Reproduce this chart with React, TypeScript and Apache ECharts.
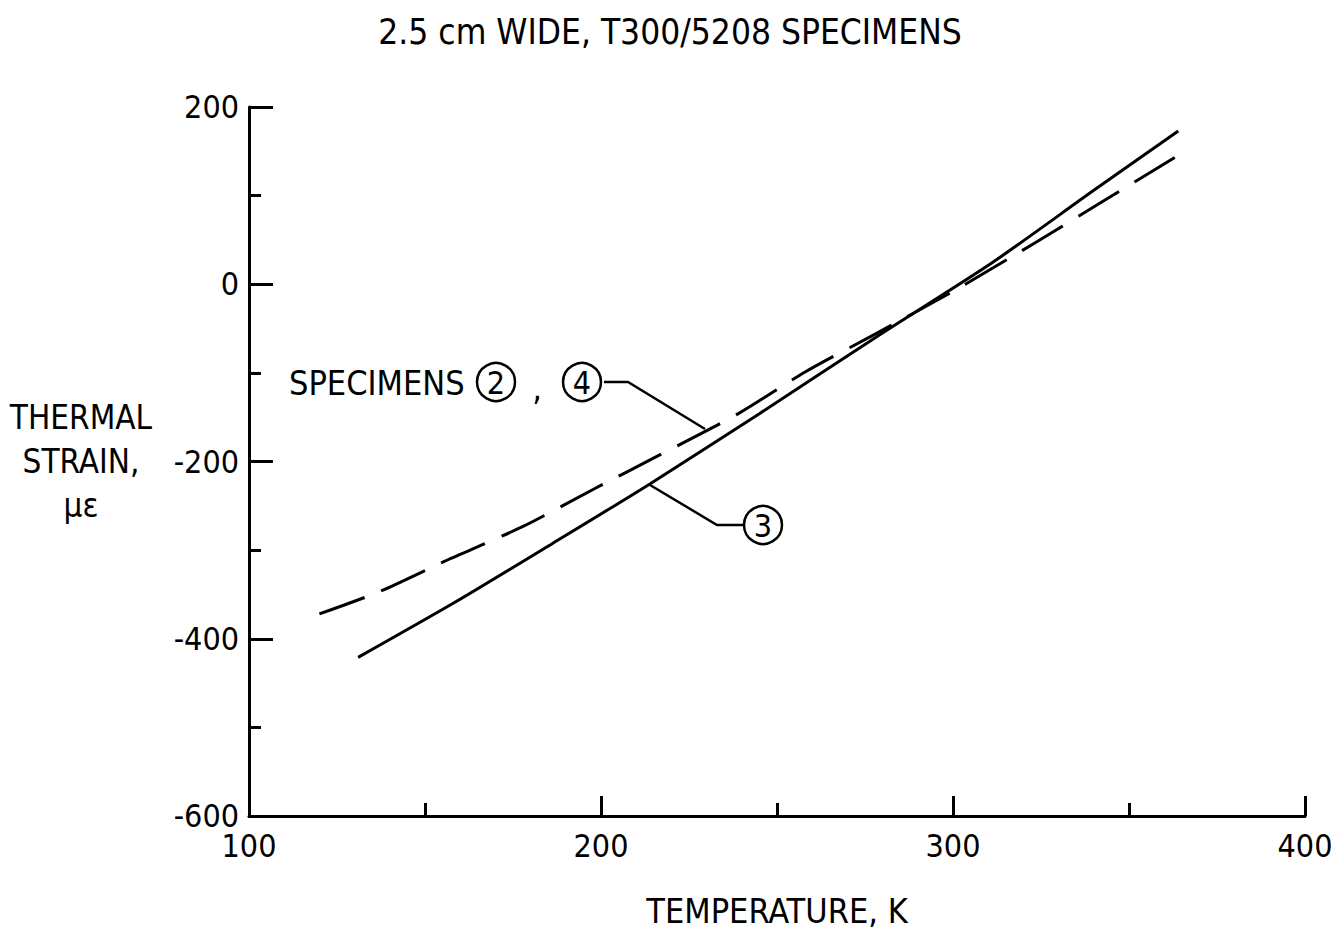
import React, { useEffect, useRef } from "react";
import * as echarts from "echarts";

const titleText = "2.5 cm WIDE, T300/5208 SPECIMENS";
const xAxisName = "TEMPERATURE, K";
const yAxisName = "THERMAL\nSTRAIN,\nμε";

// Specimen 3 (solid)
const solidT = [131, 158, 186, 214, 245, 278, 311, 340, 364];
const solidStrain = [-421, -360, -293, -225, -146, -60, 24, 106, 173];

// Specimens 2, 4 (dashed)
const dashedT = [120, 137, 157, 178, 198, 216, 239, 258, 278, 300, 323, 344, 363];
const dashedStrain = [-372, -347, -310, -273, -231, -194, -146, -99, -56, -8, 46, 97, 143];

const FONT = "'DejaVu Sans Condensed', 'DejaVu Sans', sans-serif";

function circled(cx: number, cy: number, digit: string) {
  return [
    {
      type: "circle",
      shape: { cx, cy, r: 19 },
      style: { fill: "none", stroke: "#000", lineWidth: 2.5 },
    },
    {
      type: "text",
      x: cx,
      y: cy + 1,
      style: {
        text: digit,
        fontSize: 32,
        fontFamily: FONT,
        fill: "#000",
        align: "center",
        verticalAlign: "middle",
      },
    },
  ];
}

export default function App() {
  const ref = useRef<HTMLDivElement>(null);
  useEffect(() => {
    if (!ref.current) return;
    const chart = echarts.init(ref.current, null, { renderer: "svg" });
    const solid = solidT.map((t, i) => [t, solidStrain[i]]);
    const dashed = dashedT.map((t, i) => [t, dashedStrain[i]]);
    const axisLine = { show: true, onZero: false, lineStyle: { color: "#000", width: 3 } };
    chart.setOption({
      animation: false,
      backgroundColor: "#fff",
      title: {
        text: titleText,
        left: "center",
        top: 9,
        textStyle: { fontSize: 35, fontWeight: "normal", fontFamily: FONT, color: "#000" },
      },
      grid: { left: 249, right: 35, top: 107, bottom: 116, containLabel: false },
      xAxis: {
        type: "value",
        min: 100,
        max: 400,
        interval: 100,
        name: xAxisName,
        nameLocation: "middle",
        nameGap: 78,
        nameTextStyle: { fontSize: 34, fontFamily: FONT, color: "#000" },
        axisLine,
        axisTick: { show: true, inside: true, length: 20, lineStyle: { color: "#000", width: 3 } },
        minorTick: { show: true, splitNumber: 2, length: 13, lineStyle: { color: "#000", width: 3 } },
        splitLine: { show: false },
        axisLabel: { fontSize: 32, fontFamily: FONT, color: "#000", margin: 14 },
      },
      yAxis: {
        type: "value",
        min: -600,
        max: 200,
        interval: 200,
        name: yAxisName,
        nameLocation: "middle",
        nameRotate: 0,
        nameGap: 168,
        nameTextStyle: { fontSize: 33, fontFamily: FONT, color: "#000", align: "center", lineHeight: 44 },
        axisLine,
        axisTick: { show: true, inside: true, length: 24, lineStyle: { color: "#000", width: 3 } },
        minorTick: { show: true, splitNumber: 2, length: 12, lineStyle: { color: "#000", width: 3 } },
        splitLine: { show: false },
        axisLabel: { fontSize: 32, fontFamily: FONT, color: "#000", margin: 10 },
      },
      series: [
        {
          name: "Specimen 3",
          type: "line",
          data: solid,
          showSymbol: false,
          smooth: 0.25,
          lineStyle: { color: "#000", width: 3 },
        },
        {
          name: "Specimens 2, 4",
          type: "line",
          data: dashed,
          showSymbol: false,
          smooth: 0.25,
          lineStyle: { color: "#000", width: 3, type: [48, 18] },
        },
      ],
      graphic: [
        {
          type: "text",
          x: 289,
          y: 383,
          style: {
            text: "SPECIMENS",
            fontSize: 34,
            fontFamily: FONT,
            fill: "#000",
            align: "left",
            verticalAlign: "middle",
          },
        },
        ...circled(496, 382, "2"),
        {
          type: "text",
          x: 537,
          y: 388,
          style: { text: ",", fontSize: 34, fontFamily: FONT, fill: "#000", align: "center", verticalAlign: "middle" },
        },
        ...circled(582, 382, "4"),
        {
          type: "polyline",
          shape: { points: [[604, 382], [628, 382], [705, 429]] },
          style: { stroke: "#000", lineWidth: 2.5, fill: "none" },
        },
        {
          type: "polyline",
          shape: { points: [[650, 485], [717, 525], [743, 525]] },
          style: { stroke: "#000", lineWidth: 2.5, fill: "none" },
        },
        ...circled(763, 525, "3"),
      ],
    });
    return () => chart.dispose();
  }, []);
  return (
    <div
      ref={ref}
      style={{ position: "fixed", left: 0, top: 0, width: 1340, height: 933, background: "#fff" }}
    />
  );
}
